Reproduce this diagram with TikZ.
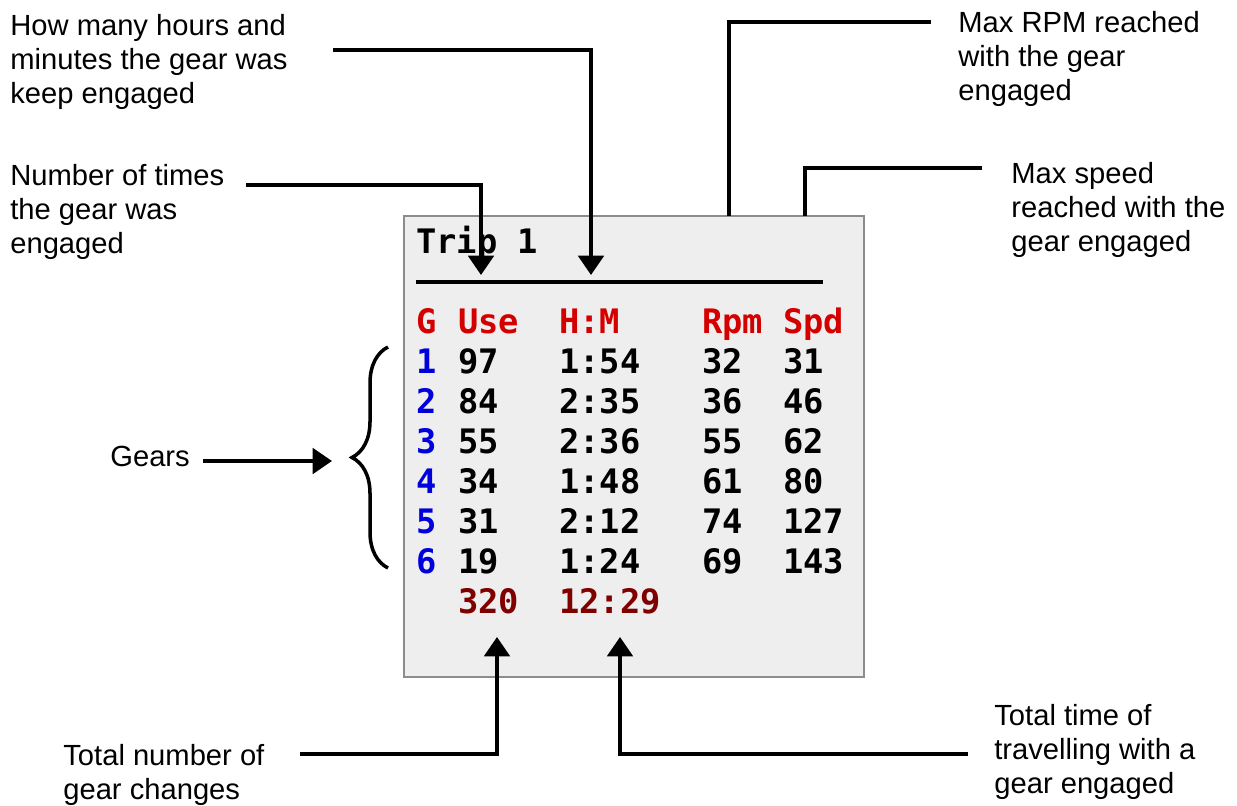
\documentclass[tikz,border=0pt]{standalone}
\usepackage{fontspec}
\setmainfont{Liberation Sans}
\newfontfamily\lcdfont{DejaVu Sans Mono}
\usetikzlibrary{arrows.meta,decorations.pathreplacing}
\definecolor{lcdgray}{HTML}{EEEEEE}
\definecolor{lcdframe}{HTML}{8C8C8C}
\definecolor{headred}{HTML}{D40000}
\definecolor{gearblue}{HTML}{0000DD}
\definecolor{totalred}{HTML}{800000}
\tikzset{
	note/.style={anchor=base west, align=left, inner sep=0pt, font=\fontsize{16.6}{19.3}\selectfont},
	lcd/.style={anchor=base west, inner sep=0pt, font=\lcdfont\bfseries\fontsize{19.2}{20}\selectfont},
	pointer/.style={line width=2.1pt, -{Triangle[width=14.5pt,length=11pt]}},
	leader/.style={line width=2.1pt},
}
\begin{document}
\begin{tikzpicture}[x=0.02cm,y=-0.02cm]
	\useasboundingbox (0,0) rectangle (1237,805);
		% Pantalla
			\draw[lcdframe, fill=lcdgray, line width=0.8pt] (404,216) rectangle (864,677);
			\node[lcd] (trip) at (416,253) {Trip 1};
			\draw[line width=2.2pt] (416,282) -- (823,282);
		% Cabecera
			\node[lcd, headred] (hg) at (416,333) {G};
			\node[lcd, headred] (huse) at (458,333) {Use};
			\node[lcd, headred] (hhm) at (559,333) {H:M};
			\node[lcd, headred] (hrpm) at (702,333) {Rpm};
			\node[lcd, headred] (hspd) at (783,333) {Spd};
		% Filas
			\foreach \g/\use/\hm/\rpm/\spd [count=\r] in {1/97/1:54/32/31, 2/84/2:35/36/46, 3/55/2:36/55/62, 4/34/1:48/61/80, 5/31/2:12/74/127, 6/19/1:24/69/143}{
				\node[lcd, gearblue] (g\r) at (416,333+40*\r) {\g};
				\node[lcd] (use\r) at (458,333+40*\r) {\use};
				\node[lcd] (hm\r) at (559,333+40*\r) {\hm};
				\node[lcd] (rpm\r) at (702,333+40*\r) {\rpm};
				\node[lcd] (spd\r) at (783,333+40*\r) {\spd};
			}
		% Totales
			\node[lcd, totalred] (totuse) at (458,613) {320};
			\node[lcd, totalred] (tothm) at (559,613) {12:29};

		% Textos (base = ultima linea)
			\node[note] (lblhm) at (10,103) {How many hours and\\minutes the gear was\\keep engaged};
			\node[note] (lbluse) at (10,253) {Number of times\\the gear was\\engaged};
			\node[note] (lblrpm) at (958,100) {Max RPM reached\\with the gear\\engaged};
			\node[note] (lblspd) at (1011,251) {Max speed\\reached with the\\gear engaged};
			\node[note] (lblgears) at (110,466) {Gears};
			\node[note] (lbltotuse) at (63,799) {Total number of\\gear changes};
			\node[note] (lbltothm) at (994,793) {Total time of\\travelling with a\\gear engaged};

		% Puntos de las flechas
			\coordinate (uses) at (246,185);
			\coordinate (usee) at (481,275);
			\coordinate (hms) at (333,50);
			\coordinate (hme) at (591,275);
			\coordinate (rpms) at (931,22);
			\coordinate (rpme) at (729,216);
			\coordinate (spds) at (982,168);
			\coordinate (spde) at (805,216);
			\coordinate (gearss) at (203,461);
			\coordinate (gearse) at (332,461);
			\coordinate (totuses) at (300,754);
			\coordinate (totusee) at (497,637);
			\coordinate (tothms) at (968,754);
			\coordinate (tothme) at (620,637);

		% Flechas
			\draw[pointer] (uses) -| (usee);
			\draw[pointer] (hms) -| (hme);
			\draw[leader] (rpms) -| (rpme);
			\draw[leader] (spds) -| (spde);
			\draw[pointer] (gearss) -- (gearse);
			\draw[pointer] (totuses) -| (totusee);
			\draw[pointer] (tothms) -| (tothme);

		% Llave
			\draw[line width=2pt, decorate, decoration={brace, amplitude=0.72cm}] (388,568) -- (388,347);
\end{tikzpicture}
\end{document}
